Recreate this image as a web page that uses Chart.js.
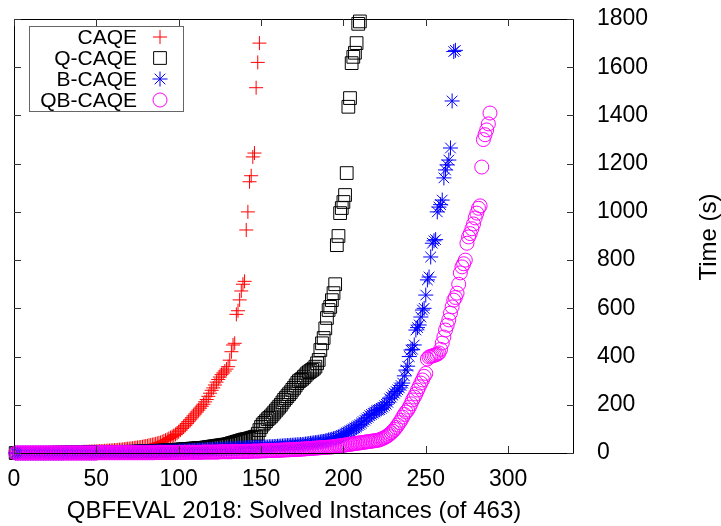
<!DOCTYPE html>
<html>
<head>
<meta charset="utf-8">
<script src="https://cdn.jsdelivr.net/npm/chart.js@4.4.0/dist/chart.umd.min.js"></script>
<style>
  html, body { margin: 0; padding: 0; background: #fff; }
</style>
</head>
<body>
<canvas id="cactus" width="721" height="526"></canvas>
<script>
// solver names, in legend order
const solverNames = ['CAQE', 'Q-CAQE', 'B-CAQE', 'QB-CAQE'];

// sorted solving times (s), one entry per solved instance (x = rank)
const caqeTimes = [
  0,0,0,0,0,0,0,0,0,0,1,1,1,1,1,1,1,1,1,1,
  1,1,2,2,2,2,2,2,2,2,3,3,3,3,3,3,4,4,4,4,
  4,5,5,5,5,6,6,6,7,7,7,8,8,8,9,9,10,10,11,11,
  12,12,13,14,14,15,16,17,18,18,19,20,21,22,23,24,25,26,28,29,
  30,32,33,35,36,38,40,42,44,47,50,53,56,60,64,68,72,77,82,88,
  95,102,108,115,122,130,138,146,154,162,170,178,186,194,202,212,222,235,248,260,
  270,282,294,305,315,325,332,340,348,358,
  385,420,448,455,575,590,635,672,700,712,925,1000,1125,1150,1228,1244,1515,1620,1700
];
const qCaqeTimes = [
  0,0,0,0,0,0,0,0,0,0,0,0,0,0,0,0,0,0,0,0,
  0,0,0,0,0,1,1,1,1,1,1,1,1,1,1,1,1,1,1,1,
  1,1,1,1,2,2,2,2,2,2,2,2,2,2,2,3,3,3,3,3,
  3,3,3,3,4,4,4,4,4,4,5,5,5,5,5,6,6,6,6,7,
  7,7,7,8,8,8,9,9,9,10,10,10,11,11,11,12,12,13,13,14,
  14,15,15,16,16,17,17,18,18,19,19,20,20,21,21,22,23,24,25,26,
  27,28,29,30,31,32,33,34,35,36,38,40,42,44,46,48,50,52,54,56,
  57,58,60,62,64,66,68,80,95,108,
  118,125,132,140,146,152,160,168,176,184,192,200,210,220,228,236,244,252,262,270,
  280,290,298,303,308,315,322,330,335,340,
  345,350,358,372,386,427,455,477,517,560,
  593,606,634,663,700,862,900,995,1016,1041,1070,1161,1436,1472,1617,1643,1660,1700,1780,1790
];
const bCaqeTimes = [
  0,0,0,0,0,0,0,0,0,0,0,0,0,0,0,0,0,0,0,0,
  0,0,0,0,0,0,0,0,0,0,1,1,1,1,1,1,1,1,1,1,
  1,1,1,1,1,1,1,1,1,1,2,2,2,2,2,2,2,2,2,2,
  2,2,2,3,3,3,3,3,3,3,3,3,4,4,4,4,4,4,4,5,
  5,5,5,5,5,6,6,6,6,6,6,7,7,7,7,7,8,8,8,8,
  8,9,9,9,9,10,10,10,10,11,11,11,12,12,12,13,13,13,14,14,
  14,15,15,15,16,16,16,17,17,17,18,18,18,19,19,19,20,20,20,21,
  21,21,22,22,22,23,23,23,24,24,24,25,25,25,26,26,26,27,27,28,
  28,29,29,30,30,31,31,32,32,33,33,34,34,35,35,36,37,38,39,40,
  41,42,43,44,45,46,47,48,50,52,54,55,57,59,61,63,65,68,72,76,
  80,84,88,92,96,100,104,108,113,118,124,130,136,142,148,155,160,165,170,175,
  178,180,185,190,196,202,210,225,232,240,248,255,262,270,280,290,320,
  344,360,400,427,430,448,510,520,531,564,593,600,655,718,730,813,870,880,885,1000,
  1020,1030,1049,1141,1174,1195,1215,1265,1460,1665,1670
];
const qbCaqeTimes = [
  0,0,0,0,0,0,0,0,0,0,0,0,0,0,0,0,0,0,0,0,
  0,0,0,0,0,0,0,0,0,0,0,0,0,0,0,0,0,0,0,0,
  0,0,0,0,0,0,0,0,0,0,1,1,1,1,1,1,1,1,1,1,
  1,1,1,1,1,1,1,1,1,1,1,1,1,1,1,1,1,1,1,1,
  1,1,1,1,1,2,2,2,2,2,2,2,2,2,2,2,2,2,2,2,
  2,2,2,3,3,3,3,3,3,3,3,3,3,3,4,4,4,4,4,4,
  4,4,4,4,5,5,5,5,5,5,5,5,6,6,6,6,6,6,6,7,
  7,7,7,7,8,8,8,8,8,9,9,9,9,10,10,10,10,11,11,11,
  11,12,12,12,13,13,13,14,14,14,15,15,15,16,16,17,17,18,18,19,
  19,20,20,21,21,22,22,23,23,24,24,25,25,26,27,28,29,30,31,32,
  33,34,35,36,37,38,39,40,41,42,43,44,45,46,47,48,49,50,51,52,
  53,55,58,61,64,68,72,78,84,90,98,106,116,126,136,149,160,170,178,190,
  204,220,232,245,261,275,290,303,318,330,
  390,398,401,403,405,407,410,415,430,456,481,510,530,552,580,606,634,645,663,700,
  747,772,785,800,870,896,910,930,950,975,995,1015,1025,1186,1300,1320,1340,1365,1410
];

const xTickValues = [0, 50, 100, 150, 200, 250, 300];
const yTickValues = [0, 200, 400, 600, 800, 1000, 1200, 1400, 1600, 1800];
const xTitle = 'QBFEVAL 2018: Solved Instances (of 463)';
const yTitle = 'Time (s)';

const colors = ['#ff0000', '#000000', '#0000ff', '#ff00ff'];
const styles = ['cross', 'rect', 'star', 'circle'];
const radii = [7, 9, 7.5, 7];
const FONT = "'Liberation Sans', Arial, Helvetica, sans-serif";

function toPoints(times) {
  return times.map((t, i) => ({ x: i + 1, y: t }));
}

const allTimes = [caqeTimes, qCaqeTimes, bCaqeTimes, qbCaqeTimes];

const datasets = solverNames.map((name, k) => ({
  label: name,
  data: toPoints(allTimes[k]),
  pointStyle: styles[k],
  pointRadius: radii[k],
  pointBorderWidth: 1,
  pointBorderColor: colors[k],
  pointBackgroundColor: 'rgba(0,0,0,0)',
  showLine: false,
  clip: false,
  order: 4 - k   // later solvers drawn on top
}));

function drawMarker(ctx, style, r, x, y) {
  ctx.beginPath();
  if (style === 'cross') {
    ctx.moveTo(x - r, y); ctx.lineTo(x + r, y);
    ctx.moveTo(x, y - r); ctx.lineTo(x, y + r);
  } else if (style === 'rect') {
    const s = r * Math.SQRT1_2;
    ctx.rect(x - s, y - s, 2 * s, 2 * s);
  } else if (style === 'star') {
    ctx.moveTo(x - r, y); ctx.lineTo(x + r, y);
    ctx.moveTo(x, y - r); ctx.lineTo(x, y + r);
    const d = r * Math.SQRT1_2;
    ctx.moveTo(x - d, y - d); ctx.lineTo(x + d, y + d);
    ctx.moveTo(x - d, y + d); ctx.lineTo(x + d, y - d);
  } else {
    ctx.arc(x, y, r, 0, Math.PI * 2);
  }
  ctx.stroke();
}

function noPadding(s) {
  s.paddingLeft = 0; s.paddingRight = 0; s.paddingTop = 0; s.paddingBottom = 0;
}

// border box with inward ticks on all four sides, drawn over the points
const framePlugin = {
  id: 'frame',
  afterDatasetsDraw(chart) {
    const ctx = chart.ctx;
    const a = chart.chartArea;
    const xs = chart.scales.x, ys = chart.scales.y;
    ctx.save();
    ctx.strokeStyle = '#000';
    ctx.lineWidth = 1;
    ctx.strokeRect(a.left + 0.5, a.top + 0.5, a.right - a.left - 1, a.bottom - a.top);
    ctx.strokeStyle = '#333';
    ctx.beginPath();
    xTickValues.forEach(v => {
      const px = Math.round(xs.getPixelForValue(v)) + 0.5;
      ctx.moveTo(px, a.bottom); ctx.lineTo(px, a.bottom - 7);
      ctx.moveTo(px, a.top); ctx.lineTo(px, a.top + 7);
    });
    yTickValues.forEach(v => {
      const py = Math.round(ys.getPixelForValue(v)) + 0.5;
      ctx.moveTo(a.left, py); ctx.lineTo(a.left + 7, py);
      ctx.moveTo(a.right, py); ctx.lineTo(a.right - 7, py);
    });
    ctx.stroke();
    ctx.restore();
  },
  afterDraw(chart) {
    const ctx = chart.ctx;
    ctx.save();
    // key box
    ctx.strokeStyle = '#666';
    ctx.lineWidth = 1;
    ctx.strokeRect(29.5, 26.5, 154, 85);
    ctx.font = '21px ' + FONT;
    ctx.textAlign = 'right';
    ctx.textBaseline = 'middle';
    solverNames.forEach((name, k) => {
      const y = 38 + k * 21;
      ctx.fillStyle = '#000';
      ctx.fillText(name, 137, y);
      ctx.strokeStyle = colors[k];
      drawMarker(ctx, styles[k], radii[k], 160, y - 1);
    });
    // right-hand axis title, reading bottom to top
    ctx.font = '24px ' + FONT;
    ctx.translate(709, 237);
    ctx.rotate(-Math.PI / 2);
    ctx.textAlign = 'center';
    ctx.fillStyle = '#000';
    ctx.fillText(yTitle, 0, 0);
    ctx.restore();
  }
};

new Chart(document.getElementById('cactus'), {
  type: 'scatter',
  data: { datasets: datasets },
  options: {
    responsive: false,
    animation: false,
    devicePixelRatio: 1,
    layout: { padding: { left: 14, top: 19, right: 0, bottom: 0 } },
    plugins: { legend: { display: false }, tooltip: { enabled: false } },
    scales: {
      x: {
        type: 'linear',
        position: 'bottom',
        min: 0,
        max: 340,
        afterBuildTicks: s => { s.ticks = xTickValues.map(v => ({ value: v })); },
        afterFit: s => { s.height = 73; noPadding(s); },
        grid: { display: false, drawTicks: false },
        border: { display: false },
        ticks: {
          color: '#000', padding: 13, maxRotation: 0,
          font: { family: FONT, size: 23 },
          callback: v => String(v)
        },
        title: {
          display: true,
          text: xTitle,
          color: '#000',
          padding: { top: 0, bottom: 0 },
          font: { family: FONT, size: 24 }
        }
      },
      y: {
        type: 'linear',
        position: 'right',
        min: 0,
        max: 1800,
        afterBuildTicks: s => { s.ticks = yTickValues.map(v => ({ value: v })); },
        afterFit: s => { s.width = 147; noPadding(s); },
        grid: { display: false, drawTicks: false },
        border: { display: false },
        ticks: {
          color: '#000', padding: 23,
          font: { family: FONT, size: 23 },
          callback: v => String(v)
        }
      }
    }
  },
  plugins: [framePlugin]
});
</script>
</body>
</html>
